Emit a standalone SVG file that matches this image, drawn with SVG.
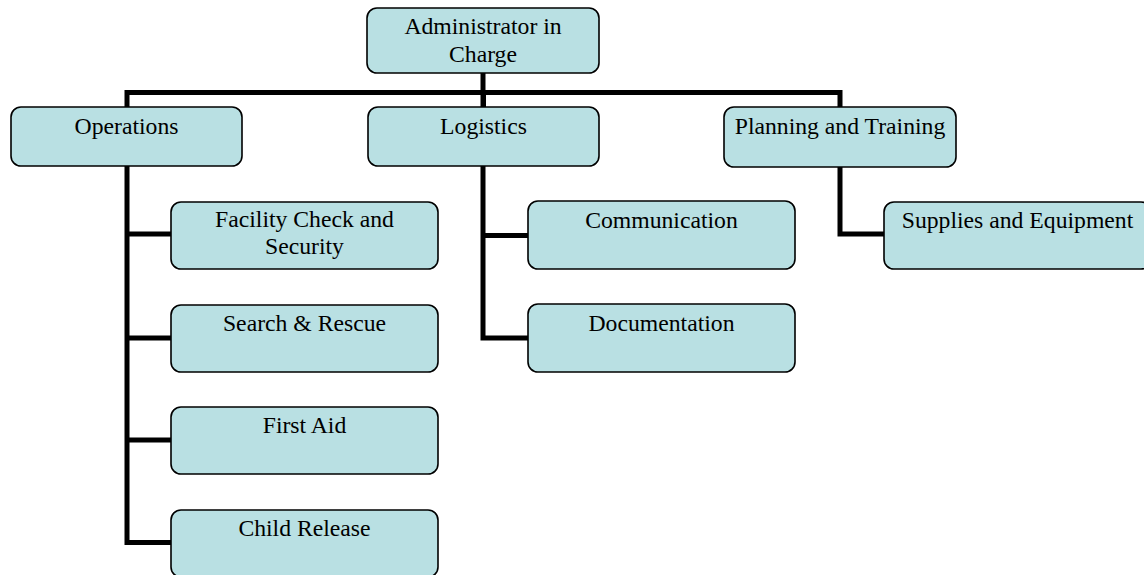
<svg xmlns="http://www.w3.org/2000/svg" width="1144" height="575" viewBox="0 0 1144 575">
<style>
.box{fill:#b9e0e3;stroke:#000;stroke-width:1.6}
.t{font-family:"Liberation Serif","Times New Roman",serif;font-size:23.7px;fill:#000;text-anchor:middle}
.c{fill:none;stroke:#000;stroke-width:5;stroke-linejoin:miter;stroke-linecap:butt}
</style>
<rect width="1144" height="575" fill="#fff"/>
<g id="connectors">
<path class="c" d="M483,73 V107"/>
<path class="c" d="M127,107 V92.5 H840 V107"/>
<path class="c" d="M483.5,92.5 V107"/>
<path class="c" d="M127,166 V542.5 H171"/>
<path class="c" d="M127,234 H171"/>
<path class="c" d="M127,338 H171"/>
<path class="c" d="M127,440 H171"/>
<path class="c" d="M483,166 V338 H528"/>
<path class="c" d="M483,235.5 H528"/>
<path class="c" d="M840,167 V234 H884"/>
</g>
<g id="admin"><rect class="box" x="367" y="8" width="232" height="65" rx="10"/><text class="t" x="483" y="34">Administrator in</text><text class="t" x="483" y="62">Charge</text></g>
<g id="operations"><rect class="box" x="11" y="107" width="231" height="59" rx="10"/><text class="t" x="126.5" y="134">Operations</text></g>
<g id="logistics"><rect class="box" x="368" y="107" width="231" height="59" rx="10"/><text class="t" x="483.5" y="134">Logistics</text></g>
<g id="planning"><rect class="box" x="724" y="107" width="232" height="60" rx="10"/><text class="t" x="840" y="134">Planning and Training</text></g>
<g id="facility"><rect class="box" x="171" y="202" width="267" height="67" rx="10"/><text class="t" x="304.5" y="227">Facility Check and</text><text class="t" x="304.5" y="254">Security</text></g>
<g id="search"><rect class="box" x="171" y="305" width="267" height="67" rx="10"/><text class="t" x="304.5" y="331">Search &amp; Rescue</text></g>
<g id="firstaid"><rect class="box" x="171" y="407" width="267" height="67" rx="10"/><text class="t" x="304.5" y="433">First Aid</text></g>
<g id="childrelease"><rect class="box" x="171" y="510" width="267" height="67" rx="10"/><text class="t" x="304.5" y="536">Child Release</text></g>
<g id="communication"><rect class="box" x="528" y="201" width="267" height="68" rx="10"/><text class="t" x="661.5" y="228">Communication</text></g>
<g id="documentation"><rect class="box" x="528" y="304" width="267" height="68" rx="10"/><text class="t" x="661.5" y="331">Documentation</text></g>
<g id="supplies"><rect class="box" x="884" y="202" width="267" height="67" rx="10"/><text class="t" x="1017.5" y="228">Supplies and Equipment</text></g>
</svg>
